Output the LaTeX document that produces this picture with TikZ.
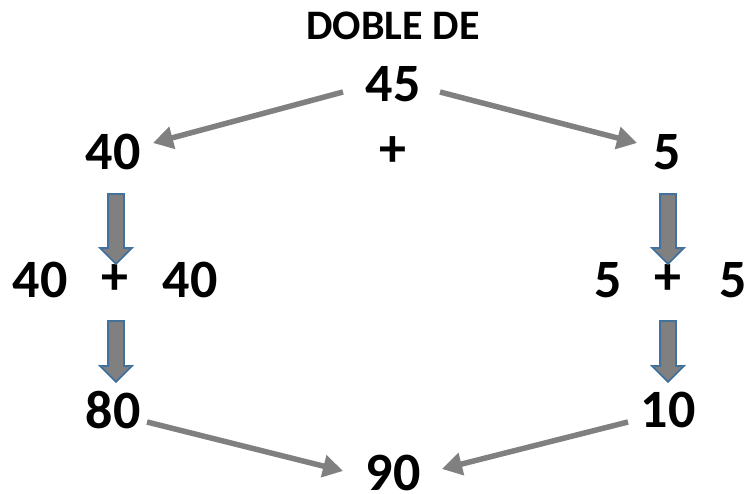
\documentclass[tikz,border=0pt]{standalone}
\usepackage{fontspec}
\setmainfont{Carlito}
\usetikzlibrary{arrows.meta,shapes.arrows}
\definecolor{arrgray}{RGB}{128,128,128}
\definecolor{outblue}{RGB}{65,113,156}
\begin{document}
\begin{tikzpicture}[x=1pt,y=-1pt,
  num/.style={font=\fontsize{54}{54}\selectfont\bfseries, inner sep=0pt},
  ttl/.style={font=\fontsize{42}{42}\selectfont\bfseries, inner sep=0pt},
  conn/.style={draw=arrgray, line width=5.5pt, -{Triangle[length=20pt,width=22pt]}},
  blk/.style={single arrow, draw=outblue, fill=arrgray, line width=1.8pt,
    minimum width=30pt, single arrow head extend=8pt, inner sep=7pt,
    shape border rotate=270, anchor=center}
]
\useasboundingbox (0,0) rectangle (750,494);
\node[ttl] (title) at (393,26) {DOBLE DE};
\node[num] (n45) at (393,84) {45};
\node[num] (n40) at (113,152) {40};
\node[num] (plus) at (393,152) {+};
\node[num] (n5) at (667,152) {5};
\node[num] (l40a) at (40,280) {40};
\node[num] (lplus) at (115,280) {+};
\node[num] (l40b) at (190,280) {40};
\node[num] (r5a) at (608,280) {5};
\node[num] (rplus) at (668,280) {+};
\node[num] (r5b) at (733,280) {5};
\node[num] (n80) at (113,410) {80};
\node[num] (n10) at (668,410) {10};
\node[num] (n90) at (393,473) {90};
% block arrows
\node[blk, minimum height=70pt] (b1) at (116,225) {};
\node[blk, minimum height=61pt] (b2) at (116,347.5) {};
\node[blk, minimum height=70pt] (b3) at (668,225) {};
\node[blk, minimum height=61pt] (b4) at (668,347.5) {};
% connectors
\coordinate (c1s) at (343,92);
\coordinate (c1e) at (153,143);
\coordinate (c2s) at (440,92);
\coordinate (c2e) at (637,143);
\coordinate (c3s) at (147,422);
\coordinate (c3e) at (343,471);
\coordinate (c4s) at (628,422);
\coordinate (c4e) at (442,469);
\draw[conn] (c1s) -- (c1e);
\draw[conn] (c2s) -- (c2e);
\draw[conn] (c3s) -- (c3e);
\draw[conn] (c4s) -- (c4e);
\end{tikzpicture}
\end{document}
